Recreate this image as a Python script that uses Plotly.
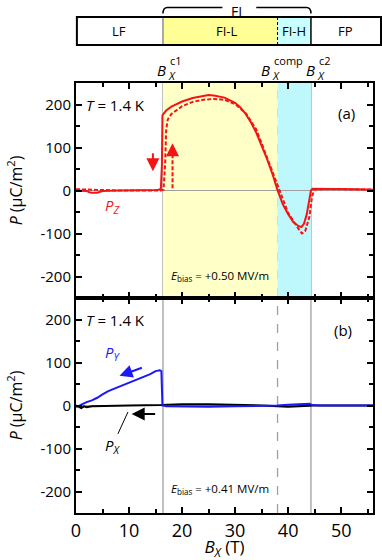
import plotly.graph_objects as go
from plotly.subplots import make_subplots

# critical fields (T)
B_c1 = 16.4
B_comp = 38.0
B_c2 = 44.3
x_max = 56.0

# panel (a): P_Z, down sweep (solid) and up sweep (dashed)
bz_down = [0, 1, 2, 2.5, 3, 4, 4.5, 5, 8, 12, 15, 15.6, 16.0, 16.2, 16.3, 17, 18, 20, 22, 24, 25, 26, 28,
           30, 31, 32, 33, 34, 35, 36, 37, 38, 39, 40, 41, 42, 42.5, 43, 43.5, 44, 44.3, 44.6, 47, 50, 53, 56]
pz_down = [0, 0, -1, -4, -5, -5, -3, -1, 0, 0, 1, 2, 4, 60, 175, 186, 195, 207, 215, 220, 222, 221, 216,
           204, 193, 178, 158, 134, 106, 74, 40, 1, -32, -55, -74, -83, -85, -77, -56, -22, 0, 4, 4, 4, 3, 2]

bz_up = [0, 2, 4, 8, 12, 16, 16.5, 16.8, 17.0, 17.3, 18, 20, 22, 24, 26, 28, 30, 32, 34, 36, 38, 40, 42,
         42.6, 43.2, 44, 44.5, 44.9, 47, 50, 53, 56]
pz_up = [3, 2, 1, 0, 0, 0, 2, 60, 140, 165, 178, 196, 206, 211, 213, 211, 201, 180, 142, 78, 10, -52, -90,
         -100, -95, -62, -15, 2, 3, 3, 3, 2]

# panel (b): P_Y and P_X
by = [0, 0.5, 1, 2, 3, 4, 5, 6, 7, 8, 10, 12, 14, 15, 15.8, 16.1, 16.3, 17, 20, 25, 30, 35, 38, 40, 42, 44,
      44.6, 46, 50, 56]
py = [-3, -2, 2, 8, 12, 18, 26, 33, 38, 43, 52, 62, 73, 80, 82, 80, 0, -2, -3, -3, -2, -1, 0, 2, 3, 4,
      1, 0, 0, 0]

bx = [0, 0.5, 1, 1.5, 2, 3, 5, 10, 16, 20, 25, 30, 35, 38, 40, 42, 44, 45, 50, 56]
px_ = [0, -3, -6, -2, -4, -2, -1, 0, 1, 3, 3, 2, 0, -2, -3, -2, 0, 0, 0, 0]

y_ticks = [-200, -100, 0, 100, 200]
y_ticktext = ["-200", "-100", "0", "100", "200"]

FONT = "Open Sans"
RED = "rgb(245,20,20)"
BLUE = "rgb(25,25,250)"

fig = make_subplots(rows=2, cols=1, shared_xaxes=True, vertical_spacing=0)

fig.add_trace(go.Scatter(x=bz_up, y=pz_up, mode="lines",
                         line=dict(color=RED, width=2, dash="4px,2px")), row=1, col=1)
fig.add_trace(go.Scatter(x=bz_down, y=pz_down, mode="lines",
                         line=dict(color=RED, width=2)), row=1, col=1)
fig.add_trace(go.Scatter(x=bx, y=px_, mode="lines",
                         line=dict(color="black", width=2)), row=2, col=1)
fig.add_trace(go.Scatter(x=by, y=py, mode="lines",
                         line=dict(color=BLUE, width=2)), row=2, col=1)

shapes = []
# coloured phase regions in panel (a)
shapes.append(dict(type="rect", xref="x", yref="y", x0=B_c1, x1=B_comp, y0=-250, y1=250,
                   fillcolor="rgb(255,255,200)", line_width=0, layer="below"))
shapes.append(dict(type="rect", xref="x", yref="y", x0=B_comp, x1=B_c2, y0=-250, y1=250,
                   fillcolor="rgb(190,248,252)", line_width=0, layer="below"))
# vertical field markers across both panels
for b, d in [(B_c1, "solid"), (B_comp, "dash"), (B_c2, "solid")]:
    shapes.append(dict(type="line", xref="x", yref="paper", x0=b, x1=b, y0=0, y1=1,
                       line=dict(color="rgb(160,160,160)", width=1.3, dash=d), layer="below"))

# phase bar on top (paper coords)
def xp(b):
    return b / x_max

bar_y0, bar_y1 = 1.0884, 1.1535
bar_right = 1.027
shapes.append(dict(type="rect", xref="paper", yref="paper", x0=xp(B_c1), x1=xp(B_comp), y0=bar_y0, y1=bar_y1,
                   fillcolor="rgb(255,255,150)", line_width=0))
shapes.append(dict(type="rect", xref="paper", yref="paper", x0=xp(B_comp), x1=xp(B_c2), y0=bar_y0, y1=bar_y1,
                   fillcolor="rgb(200,255,255)", line_width=0))
shapes.append(dict(type="line", xref="paper", yref="paper", x0=xp(B_c1), x1=xp(B_c1), y0=bar_y0, y1=bar_y1,
                   line=dict(color="rgb(90,90,90)", width=1)))
shapes.append(dict(type="line", xref="paper", yref="paper", x0=xp(B_comp), x1=xp(B_comp), y0=bar_y0, y1=bar_y1,
                   line=dict(color="black", width=1, dash="3px,2px")))
shapes.append(dict(type="line", xref="paper", yref="paper", x0=xp(B_c2), x1=xp(B_c2), y0=bar_y0, y1=bar_y1,
                   line=dict(color="black", width=1.5)))
shapes.append(dict(type="rect", xref="paper", yref="paper", x0=0.003, x1=bar_right, y0=bar_y0, y1=bar_y1,
                   line=dict(color="black", width=2)))

# bracket for FI
bx0, bx1 = xp(B_c1), xp(B_c2)
yt, yl = 1.1756, 1.1616
dx = 0.015
gap0, gap1 = 0.493, 0.607
path = (f"M {bx0},{yl} Q {bx0},{yt} {bx0 + dx},{yt} L {gap0},{yt} "
        f"M {gap1},{yt} L {bx1 - dx},{yt} Q {bx1},{yt} {bx1},{yl}")
shapes.append(dict(type="path", xref="paper", yref="paper", path=path,
                   line=dict(color="black", width=1.5)))

# dashed shaft of the up-sweep arrow and P_X pointer line
shapes.append(dict(type="line", xref="x", yref="y", x0=18.2, x1=18.2, y0=5, y1=85,
                   line=dict(color=RED, width=2, dash="4px,2px")))
shapes.append(dict(type="line", xref="x2", yref="y2", x0=7.9, x1=9.8, y0=-66, y1=-15,
                   line=dict(color="black", width=1)))

fig.update_layout(shapes=shapes)

ann = []
def txt(x, y, s, size=14, color="black", xref="x", yref="y", xanchor="center", yanchor="middle", **kw):
    ann.append(dict(x=x, y=y, text=s, xref=xref, yref=yref, showarrow=False,
                    xanchor=xanchor, yanchor=yanchor,
                    font=dict(family=FONT, size=size, color=color), **kw))

# bar labels
txt(xp(8.2), 1.121, "LF", 13, xref="paper", yref="paper")
txt(xp(28.5), 1.121, "FI-L", 13, xref="paper", yref="paper")
txt(xp(41.15), 1.121, "FI-H", 13, xref="paper", yref="paper")
txt(xp(50.9), 1.121, "FP", 13, xref="paper", yref="paper")
txt(xp(30.3), 1.193, "FI", 14, xref="paper", yref="paper", yanchor="top")

# field labels above panel (a), superscript and subscript stacked
for b, sup, sh in [(B_c1, "c1", 5), (B_comp, "comp", -6), (B_c2, "c2", 6)]:
    txt(b, 1.030, "<i>B</i>", 15, xref="x", yref="paper", xanchor="right", xshift=sh)
    txt(b, 1.052, sup, 11, xref="x", yref="paper", xanchor="left", xshift=sh)
    txt(b, 1.018, "<i>X</i>", 11, xref="x", yref="paper", xanchor="left", xshift=sh - 2)

# panel texts
txt(1.6, 198, "<i>T</i> = 1.4 K", 15, xanchor="left")
txt(51, 180, "(a)", 15)
txt(6.9, -37, "<i>P</i><sub><i>Z</i></sub>", 15, color=RED)
txt(27.2, -198, "<i>E</i><sub>bias</sub> = +0.50 MV/m", 11.5)

txt(1.6, 198, "<i>T</i> = 1.4 K", 15, xref="x2", yref="y2", xanchor="left")
txt(50.4, 176, "(b)", 15, xref="x2", yref="y2")
txt(7.0, 122, "<i>P</i><sub><i>Y</i></sub>", 15, color=BLUE, xref="x2", yref="y2")
txt(7.0, -94, "<i>P</i><sub><i>X</i></sub>", 15, xref="x2", yref="y2")
txt(27.2, -194, "<i>E</i><sub>bias</sub> = +0.41 MV/m", 11.5, xref="x2", yref="y2")

# arrows
def arrow(x0, y0, x1, y1, color, xref="x", yref="y"):
    ann.append(dict(x=x1, y=y1, ax=x0, ay=y0, xref=xref, yref=yref, axref=xref, ayref=yref,
                    showarrow=True, arrowhead=2, arrowsize=1.3, arrowwidth=2, arrowcolor=color, text=""))

arrow(14.5, 90, 14.5, 45, RED)
arrow(18.2, 80, 18.2, 110, RED)
arrow(12.7, 89, 8.2, 69, BLUE, "x2", "y2")
arrow(15.2, -19.5, 10.5, -19.5, "black", "x2", "y2")

fig.update_layout(annotations=ann)

axis_common = dict(showline=True, linecolor="black", linewidth=2, mirror="allticks",
                   ticks="inside", ticklen=6, tickwidth=1.5, tickcolor="black",
                   showgrid=False, zeroline=False, automargin=False)

fig.update_xaxes(range=[0, x_max], tick0=0, dtick=10,
                 minor=dict(ticks="inside", dtick=5, ticklen=4, tickwidth=1.5, tickcolor="black"),
                 tickfont=dict(family=FONT, size=18, color="black"), **axis_common)
fig.update_xaxes(title=dict(text="<i>B</i><sub><i>X</i></sub> (T)", standoff=2,
                            font=dict(family=FONT, size=17, color="black")), row=2, col=1)

fig.update_yaxes(range=[-250, 250], tickvals=y_ticks, ticktext=y_ticktext,
                 minor=dict(ticks="inside", dtick=50, tick0=0, ticklen=4, tickwidth=1.5, tickcolor="black"),
                 tickfont=dict(family=FONT, size=15, color="black"),
                 title=dict(text="<i>P</i> (μC/m<sup>2</sup>)", standoff=14,
                            font=dict(family=FONT, size=16, color="black")),
                 **axis_common)
fig.update_yaxes(zeroline=True, zerolinecolor="rgb(160,160,160)", zerolinewidth=1, row=1, col=1)
fig.update_yaxes(zeroline=True, zerolinecolor="rgb(160,160,160)", zerolinewidth=1, row=2, col=1)

fig.update_layout(width=382, height=560, showlegend=False,
                  margin=dict(l=76, r=9, t=83, b=47),
                  paper_bgcolor="white", plot_bgcolor="white",
                  font=dict(family=FONT, color="black"))

# drop the default 8px page margin so the figure fills the window
fig.write_html("out.html", config={"displayModeBar": False},
               post_script="document.body.style.margin='0px';")
